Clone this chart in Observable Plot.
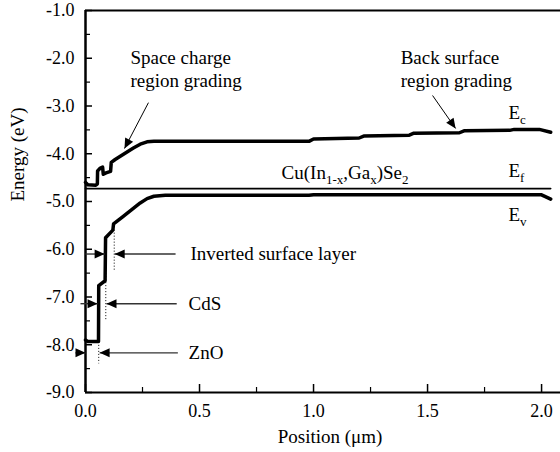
<!DOCTYPE html>
<html>
<head>
<meta charset="utf-8">
<script src="https://cdn.jsdelivr.net/npm/d3@7"></script>
<script src="https://cdn.jsdelivr.net/npm/@observablehq/plot@0.6"></script>
<style>
  html, body { margin: 0; padding: 0; background: #fff; }
</style>
</head>
<body>
<div id="chart"></div>
<script>
// ---- data (position in µm, energy in eV) ----
const ecPos = [0, 0.01, 0.045, 0.052, 0.053, 0.065, 0.075, 0.078, 0.09, 0.11, 0.113, 0.13, 0.17, 0.21, 0.24, 0.27, 0.30, 0.98, 1.0, 1.2, 1.22, 1.42, 1.44, 1.64, 1.66, 1.86, 1.88, 1.99, 2.04];
const ecVal = [-4.6, -4.65, -4.66, -4.63, -4.36, -4.30, -4.28, -4.43, -4.40, -4.37, -4.18, -4.12, -4.0, -3.88, -3.80, -3.75, -3.74, -3.74, -3.69, -3.67, -3.63, -3.61, -3.57, -3.56, -3.52, -3.51, -3.49, -3.49, -3.55];

const efPos = [0, 2.04];
const efVal = [-4.73, -4.73];

const evPos = [0, 0.01, 0.057, 0.058, 0.086, 0.088, 0.12, 0.123, 0.16, 0.20, 0.24, 0.27, 0.30, 0.35, 0.98, 1.0, 1.5, 2.0, 2.04];
const evVal = [-7.90, -7.93, -7.93, -6.76, -6.66, -5.76, -5.60, -5.47, -5.33, -5.18, -5.03, -4.94, -4.89, -4.87, -4.87, -4.86, -4.86, -4.86, -4.95];

// layer boundaries (dotted guides)
const guidePos = [0.058, 0.089, 0.126];
const guideTop = [-7.95, -5.82, -5.60];
const guideBottom = [-8.40, -7.50, -6.45];

// layer labels with paired arrows
const layerNames = ["Inverted surface layer", "CdS", "ZnO"];
const layerEnergy = [-6.10, -7.14, -8.17];
const leftArrowFrom = [0.0, -0.022, -0.044];
const leftArrowTo = [0.084, 0.053, 0.0];
const rightArrowFrom = [0.395, 0.40, 0.405];
const rightArrowTo = [0.128, 0.092, 0.062];
const layerLabelPos = [0.46, 0.452, 0.452];

// annotations
const noteText = ["Space charge\nregion grading", "Back surface\nregion grading"];
const notePos = [0.197, 1.382];
const noteEnergy = [-2.21, -2.21];
const noteArrowX1 = [0.276, 1.522];
const noteArrowY1 = [-2.93, -2.78];
const noteArrowX2 = [0.171, 1.623];
const noteArrowY2 = [-3.89, -3.47];

const bandLabels = ["E_{c}", "E_{f}", "E_{v}", "Cu(In_{1-x},Ga_{x})Se_{2}"];
const bandLabelPos = [1.855, 1.855, 1.855, 0.86];
const bandLabelEnergy = [-3.15, -4.36, -5.29, -4.40];

const xMajor = [0, 0.5, 1.0, 1.5, 2.0];
const xMinor = [0.25, 0.75, 1.25, 1.75];
const yMajor = [-9, -8, -7, -6, -5, -4, -3, -2, -1];
const yMinor = [-8.5, -7.5, -6.5, -5.5, -4.5, -3.5, -2.5, -1.5];

// ---- build tables ----
const ec = ecPos.map((x, i) => ({x, y: ecVal[i]}));
const ef = efPos.map((x, i) => ({x, y: efVal[i]}));
const ev = evPos.map((x, i) => ({x, y: evVal[i]}));
const guides = guidePos.map((x, i) => ({x, y1: guideTop[i], y2: guideBottom[i]}));
const layerArrows = layerNames.flatMap((n, i) => [
  {x1: leftArrowFrom[i], x2: leftArrowTo[i], y: layerEnergy[i]},
  {x1: rightArrowFrom[i], x2: rightArrowTo[i], y: layerEnergy[i]}
]);
const layers = layerNames.map((t, i) => ({t, x: layerLabelPos[i], y: layerEnergy[i]}));
const notes = noteText.map((t, i) => ({t, x: notePos[i], y: noteEnergy[i]}));
const noteArrows = noteArrowX1.map((x1, i) => ({x1, y1: noteArrowY1[i], x2: noteArrowX2[i], y2: noteArrowY2[i]}));
const bands = bandLabels.map((t, i) => ({t, x: bandLabelPos[i], y: bandLabelEnergy[i]}));

function solidHead(len, half) {
  return function (color) {
    const m = d3.create("svg:marker")
      .attr("viewBox", `${-len} ${-half} ${len} ${2 * half}`)
      .attr("markerWidth", len)
      .attr("markerHeight", 2 * half)
      .attr("markerUnits", "userSpaceOnUse")
      .attr("orient", "auto")
      .attr("overflow", "visible")
      .attr("fill", "#000")
      .attr("stroke", "none");
    m.append("path").attr("d", `M0,0L${-len},${-half}L${-len},${half}Z`);
    return m.node();
  };
}

const FF = "Liberation Serif";
const FONT = 18;
const NOTE = 19;
const fmt = d => d.toFixed(1);
const plotH = 452 - 10 - 60;
const plotW = 560 - 85 - 0;

const chart = Plot.plot({
  width: 560,
  height: 452,
  marginLeft: 85,
  marginRight: 0,
  marginTop: 10,
  marginBottom: 60,
  style: {fontFamily: FF, fontSize: FONT + "px", background: "#fff", color: "#000"},
  x: {domain: [0, 2.083]},
  y: {domain: [-9, -1]},
  marks: [
    // frame
    Plot.ruleY([-1], {stroke: "#000", strokeWidth: 2}),
    Plot.ruleY([-9], {stroke: "#000", strokeWidth: 2}),
    Plot.ruleX([0], {stroke: "#000", strokeWidth: 2.5}),
    // inward ticks
    Plot.tickX(xMajor, {x: d => d, insetTop: plotH - 8, stroke: "#000", strokeWidth: 1.5}),
    Plot.tickX(xMinor, {x: d => d, insetTop: plotH - 5, stroke: "#000", strokeWidth: 1.2}),
    Plot.tickY(yMajor, {y: d => d, insetRight: plotW - 7, stroke: "#000", strokeWidth: 1.5}),
    Plot.tickY(yMinor, {y: d => d, insetRight: plotW - 5, stroke: "#000", strokeWidth: 1.2}),
    // tick labels
    Plot.axisX(xMajor, {tickSize: 0, tickPadding: 12, tickFormat: fmt, fontSize: FONT, fontFamily: FF, fontVariant: "normal", label: null}),
    Plot.axisY(yMajor, {tickSize: 0, tickPadding: 11, tickFormat: fmt, fontSize: FONT, fontFamily: FF, fontVariant: "normal", label: null}),
    // axis titles
    Plot.text(["Position (μm)"], {frameAnchor: "bottom", dx: 7, dy: 50, text: d => d, fontSize: NOTE, fontFamily: FF}),
    Plot.text(["Energy (eV)"], {frameAnchor: "left", dx: -68, rotate: -90, text: d => d, fontSize: NOTE, fontFamily: FF}),
    // bands
    Plot.line(ef, {x: "x", y: "y", stroke: "#000", strokeWidth: 1.6}),
    Plot.line(ec, {x: "x", y: "y", stroke: "#000", strokeWidth: 3.5, strokeLinejoin: "round", curve: "linear"}),
    Plot.line(ev, {x: "x", y: "y", stroke: "#000", strokeWidth: 3.5, strokeLinejoin: "round", curve: "linear"}),
    // dotted layer boundaries
    Plot.ruleX(guides, {x: "x", y1: "y1", y2: "y2", stroke: "#000", strokeWidth: 1, strokeDasharray: "1,2"}),
    // layer arrows
    Plot.link(layerArrows, {x1: "x1", x2: "x2", y1: "y", y2: "y", stroke: "#333", strokeWidth: 1.4, markerEnd: solidHead(10, 4.5)}),
    Plot.text(layers, {x: "x", y: "y", text: "t", textAnchor: "start", fontSize: NOTE, fontFamily: FF}),
    // annotations
    Plot.link(noteArrows, {x1: "x1", y1: "y1", x2: "x2", y2: "y2", stroke: "#000", strokeWidth: 1, markerEnd: solidHead(10, 4.5)}),
    Plot.text(notes, {x: "x", y: "y", text: "t", textAnchor: "start", fontSize: NOTE, lineHeight: 1.2, fontFamily: FF}),
    Plot.text(bands, {x: "x", y: "y", text: "t", textAnchor: "start", fontSize: NOTE, fontFamily: FF})
  ]
});

// render "_{...}" as subscripts
chart.querySelectorAll("text").forEach(t => {
  const s = t.textContent;
  if (!s.includes("_{")) return;
  const parts = s.split(/_\{([^}]*)\}/);
  while (t.firstChild) t.removeChild(t.firstChild);
  let down = false;
  parts.forEach((p, i) => {
    if (!p) return;
    const ts = document.createElementNS("http://www.w3.org/2000/svg", "tspan");
    ts.textContent = p;
    if (i % 2 === 1) {
      ts.setAttribute("font-size", "13");
      if (!down) { ts.setAttribute("dy", "5"); down = true; }
    } else if (down) {
      ts.setAttribute("dy", "-5"); down = false;
    }
    t.appendChild(ts);
  });
});

document.getElementById("chart").appendChild(chart);
</script>
</body>
</html>
